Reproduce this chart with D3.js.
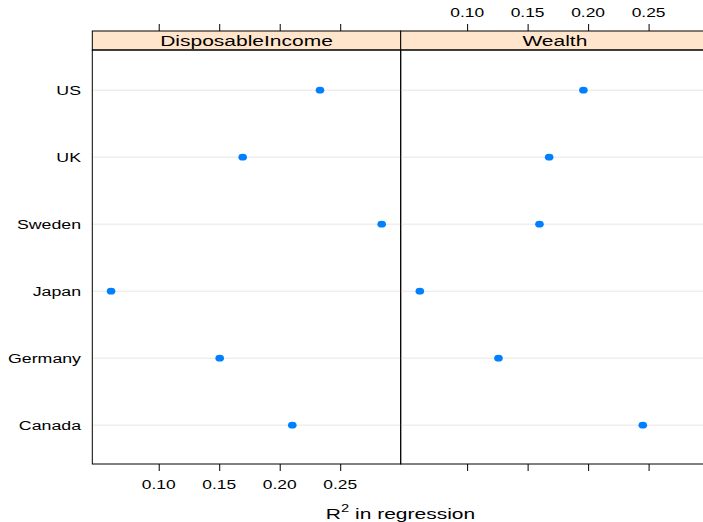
<!DOCTYPE html>
<html><head><meta charset="utf-8">
<script src="https://cdn.jsdelivr.net/npm/d3@7"></script>
<style>body{margin:0;background:#fff;}svg{display:block;font-family:"Liberation Sans",Arial,sans-serif;}</style>
</head><body><svg id="c" width="703" height="522"></svg>
<script>
const countries = ["Canada","Germany","Japan","Sweden","UK","US"];
const panels = ["DisposableIncome","Wealth"];
const disposableIncome = [0.2104,0.1504,0.0606,0.2843,0.1694,0.2333];
const wealth = [0.2452,0.1259,0.0609,0.1598,0.1678,0.1961];
const tickValues = [0.10,0.15,0.20,0.25];
const xLabel = "R";

(function(){
const svg = d3.select("#c");
const panelW = 308.4, pLeft = 92.3, pTop = 50, pBottom = 464, stripTop = 31;
const series = [disposableIncome, wealth];
const y = d3.scaleLinear().domain([0.42,6.6]).range([pBottom, pTop]);
const fmt = d3.format(".2f");
const SX = 1.4;

function label(parent, x, yy, txt, size, anchor, sx){
  const g = parent.append("g").attr("transform",`translate(${x},${yy}) scale(${sx},1)`);
  return g.append("text").attr("x",0).attr("y",0).attr("text-anchor",anchor)
    .attr("font-size",size).attr("fill","#000").text(txt);
}

panels.forEach((p,i)=>{
  const x0 = pLeft + i*panelW;
  const x = d3.scaleLinear().domain([0.0451,0.3]).range([x0, x0+panelW]);
  const g = svg.append("g");
  g.selectAll("line.grid").data(countries).join("line")
    .attr("x1",x0).attr("x2",x0+panelW)
    .attr("y1",(d,k)=>y(k+1)).attr("y2",(d,k)=>y(k+1))
    .attr("stroke","#e6e6e6").attr("stroke-width",1);
  g.append("rect").attr("x",x0).attr("y",stripTop).attr("width",panelW).attr("height",pTop-stripTop)
    .attr("fill","#ffe5cc").attr("stroke","#000").attr("stroke-width",1);
  label(g, x0+panelW/2, 46, p, 15, "middle", SX);
  g.append("rect").attr("x",x0).attr("y",pTop).attr("width",panelW).attr("height",pBottom-pTop)
    .attr("fill","none").attr("stroke","#000").attr("stroke-width",1);
  g.selectAll("ellipse").data(series[i]).join("ellipse")
    .attr("cx",d=>x(d)).attr("cy",(d,k)=>y(k+1)).attr("rx",4.3).attr("ry",3.4)
    .attr("fill","#0080ff");
  const axTop = d3.axisTop(x).tickValues(tickValues).tickSize(7).tickFormat(()=>"");
  const gt = svg.append("g").attr("transform",`translate(0,${stripTop})`).call(axTop);
  gt.select(".domain").remove();
  gt.selectAll("text").remove();
  const axBot = d3.axisBottom(x).tickValues(tickValues).tickSize(7).tickFormat(()=>"");
  const gb = svg.append("g").attr("transform",`translate(0,${pBottom})`).call(axBot);
  gb.select(".domain").remove();
  gb.selectAll("text").remove();
  tickValues.forEach(t=>{
    if(i===1) label(svg, x(t), 17, fmt(t), 12, "middle", 1.45);
    else label(svg, x(t), 489, fmt(t), 12, "middle", 1.45);
  });
});

countries.forEach((c,k)=>label(svg, 81, y(k+1)+5, c, 12.5, "end", 1.42));

const xg = svg.append("g").attr("transform","translate(400.5,519) scale(1.4,1)");
const xl = xg.append("text").attr("x",0).attr("y",0).attr("text-anchor","middle").attr("font-size",15).attr("fill","#000");
xl.append("tspan").text(xLabel);
xl.append("tspan").attr("dy",-7).attr("font-size",10.5).text("2");
xl.append("tspan").attr("dy",7).text(" in regression");
})();
</script></body></html>
